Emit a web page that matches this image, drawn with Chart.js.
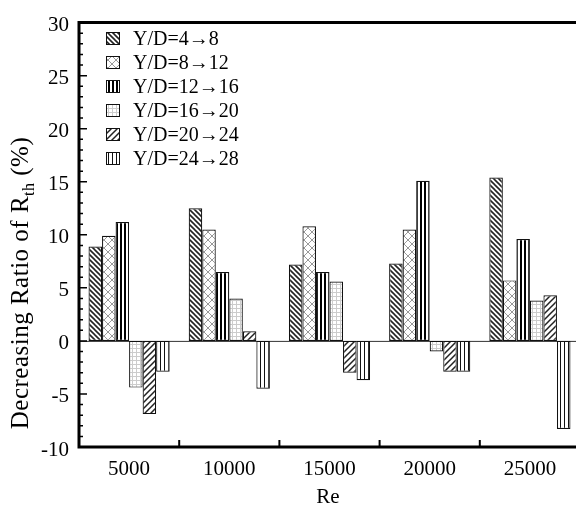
<!DOCTYPE html>
<html>
<head>
<meta charset="utf-8">
<script src="https://cdn.jsdelivr.net/npm/chart.js@4.4.0/dist/chart.umd.min.js"></script>
<style>
  html, body { margin: 0; padding: 0; overflow: hidden; background: #fff; }
</style>
</head>
<body>
<canvas id="chartRth" width="592" height="512"></canvas>
<script>
// Data
const categories = ['5000', '10000', '15000', '20000', '25000'];
const seriesLabels = ['Y/D=4\u21928', 'Y/D=8\u219212', 'Y/D=12\u219216', 'Y/D=16\u219220', 'Y/D=20\u219224', 'Y/D=24\u219228'];
const yd4to8   = [8.9, 12.5, 7.2, 7.3, 15.4];
const yd8to12  = [9.9, 10.5, 10.8, 10.5, 5.7];
const yd12to16 = [11.2, 6.5, 6.5, 15.1, 9.6];
const yd16to20 = [-4.4, 4.0, 5.6, -1.0, 3.8];
const yd20to24 = [-6.9, 0.9, -3.0, -2.9, 4.3];
const yd24to28 = [-2.9, -4.5, -3.7, -2.9, -8.3];
const yTicks = [-10, -5, 0, 5, 10, 15, 20, 25, 30];

const FONT = '"Liberation Serif", "Times New Roman", serif';

// hatch patterns
function makePattern(kind) {
  const c = document.createElement('canvas');
  let s = 6;
  if (kind === 'back') s = 5;
  if (kind === 'cross') s = 8;
  if (kind === 'vbold' || kind === 'vthin' || kind === 'grid') s = 4;
  c.width = s; c.height = s;
  const p = c.getContext('2d');
  p.fillStyle = '#fff';
  p.fillRect(0, 0, s, s);
  p.lineCap = 'square';
  if (kind === 'back' || kind === 'fwd') {
    p.strokeStyle = '#222';
    p.lineWidth = kind === 'back' ? 1.6 : 1.5;
    p.beginPath();
    for (const o of [-s, 0, s]) {
      if (kind === 'back') { p.moveTo(o, 0); p.lineTo(o + s, s); }
      else { p.moveTo(o, s); p.lineTo(o + s, 0); }
    }
    p.stroke();
  } else if (kind === 'cross') {
    p.strokeStyle = '#999';
    p.lineWidth = 1;
    p.beginPath();
    for (const o of [-s, 0, s]) {
      p.moveTo(o, 0); p.lineTo(o + s, s);
      p.moveTo(o, s); p.lineTo(o + s, 0);
    }
    p.stroke();
  } else if (kind === 'vbold') {
    p.fillStyle = '#000';
    p.fillRect(0, 0, 2, s);
  } else if (kind === 'vthin') {
    p.fillStyle = '#111';
    p.fillRect(0, 0, 1, s);
  } else if (kind === 'grid') {
    p.fillStyle = '#ccc';
    p.fillRect(0, 0, 1, s);
    p.fillRect(0, 0, s, 1);
  }
  return p.createPattern(c, 'repeat');
}

const seriesData = [yd4to8, yd8to12, yd12to16, yd16to20, yd20to24, yd24to28];
const patternKinds = ['back', 'cross', 'vbold', 'grid', 'fwd', 'vthin'];

const ctx = document.getElementById('chartRth').getContext('2d');

const datasets = seriesData.map((d, i) => ({
  label: seriesLabels[i],
  data: d,
  backgroundColor: makePattern(patternKinds[i]),
  borderColor: '#111',
  borderWidth: 1.2,
  borderSkipped: false,
  categoryPercentage: 0.81,
  barPercentage: 1.0
}));

// frame, ticks, legend, axis titles
const framePlugin = {
  id: 'frame',
  beforeDatasetsDraw(chart) {
    const c = chart.ctx, a = chart.chartArea, y = chart.scales.y;
    const y0 = y.getPixelForValue(0);
    c.save();
    c.strokeStyle = '#333';
    c.lineWidth = 1;
    c.beginPath();
    c.moveTo(a.left, y0 + 0.5);
    c.lineTo(a.right, y0 + 0.5);
    c.stroke();
    c.restore();
  },
  afterDraw(chart) {
    const c = chart.ctx, a = chart.chartArea, x = chart.scales.x, y = chart.scales.y;
    c.save();
    c.strokeStyle = '#000';
    c.lineWidth = 3;
    c.beginPath();
    c.moveTo(a.left, a.top);
    c.lineTo(a.right, a.top);
    c.moveTo(a.left, a.top - 1.5);
    c.lineTo(a.left, a.bottom + 1.5);
    c.moveTo(a.left - 1.5, a.bottom);
    c.lineTo(a.right, a.bottom);
    c.stroke();

    // y ticks, inward
    c.lineWidth = 1.5;
    c.beginPath();
    for (let v = y.min; v <= y.max; v++) {
      const py = y.getPixelForValue(v);
      const len = v % 5 === 0 ? 8 : 4;
      c.moveTo(a.left, py);
      c.lineTo(a.left + len, py);
    }
    c.stroke();

    // x ticks at category boundaries
    c.lineWidth = 2;
    c.beginPath();
    for (let i = 0; i < categories.length - 1; i++) {
      const px = (x.getPixelForValue(i) + x.getPixelForValue(i + 1)) / 2;
      c.moveTo(px, a.bottom);
      c.lineTo(px, a.bottom - 7);
    }
    c.stroke();

    // legend
    c.font = '20px ' + FONT;
    c.textBaseline = 'middle';
    c.textAlign = 'left';
    chart.data.datasets.forEach((ds, i) => {
      const cy = 39 + i * 24;
      c.fillStyle = ds.backgroundColor;
      c.fillRect(106, cy - 7, 14, 13);
      c.strokeStyle = '#111';
      c.lineWidth = 1;
      c.strokeRect(106.5, cy - 6.5, 13, 12);
      c.fillStyle = '#000';
      c.fillText(ds.label, 133, cy + 1);
    });

    // x title
    c.textAlign = 'center';
    c.font = '21px ' + FONT;
    c.fillText('Re', 328, 497);

    // y title with subscript
    c.translate(28, 283);
    c.rotate(-Math.PI / 2);
    c.textBaseline = 'alphabetic';
    c.letterSpacing = '0.5px';
    const main = 'Decreasing Ratio of R';
    const tail = ' (%)';
    c.font = '25px ' + FONT;
    const w1 = c.measureText(main).width;
    const w3 = c.measureText(tail).width;
    c.font = '16px ' + FONT;
    const w2 = c.measureText('th').width;
    const sx = -(w1 + w2 + w3) / 2;
    c.textAlign = 'left';
    c.font = '25px ' + FONT;
    c.fillText(main, sx, 0);
    c.font = '16px ' + FONT;
    c.fillText('th', sx + w1, 6);
    c.font = '25px ' + FONT;
    c.fillText(tail, sx + w1 + w2, 0);
    c.restore();
  }
};

const config = {
  type: 'bar',
  data: { labels: categories, datasets: datasets },
  options: {
    responsive: false,
    animation: false,
    devicePixelRatio: 1,
    layout: { padding: { top: 12, right: 12, left: 0, bottom: 0 } },
    plugins: {
      legend: { display: false },
      tooltip: { enabled: false }
    },
    scales: {
      x: {
        offset: true,
        grid: { display: false, drawTicks: false },
        border: { display: false },
        ticks: { color: '#000', font: { family: FONT, size: 21 }, padding: 10, maxRotation: 0 },
        afterFit(scale) { scale.height = 65; }
      },
      y: {
        min: -10,
        max: 30,
        afterBuildTicks(scale) { scale.ticks = yTicks.map(v => ({ value: v })); },
        grid: { display: false, drawTicks: false },
        border: { display: false },
        ticks: { color: '#000', font: { family: FONT, size: 21 }, padding: 10, labelOffset: 3 },
        afterFit(scale) { scale.width = 79; }
      }
    }
  },
  plugins: [framePlugin]
};

const chartRth = new Chart(ctx, config);
</script>
</body>
</html>
